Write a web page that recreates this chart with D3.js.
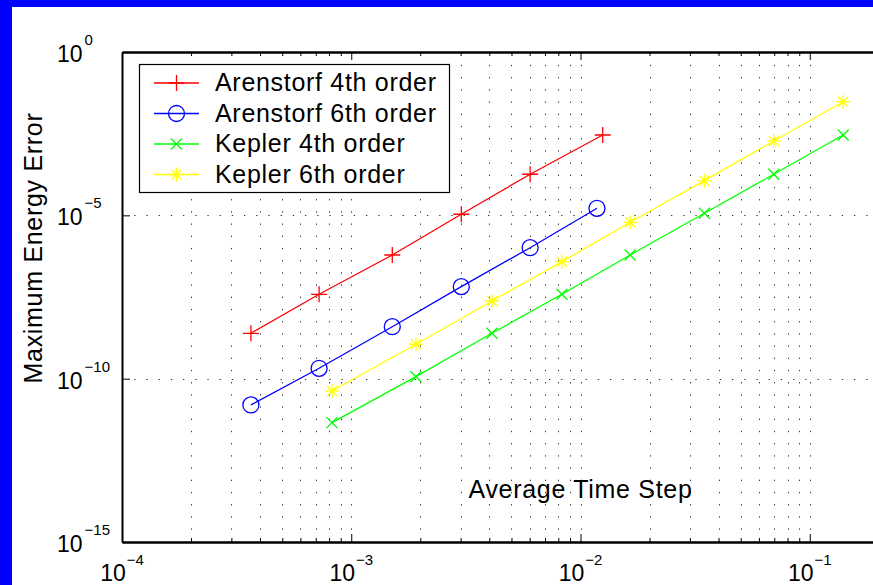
<!DOCTYPE html>
<html>
<head>
<meta charset="utf-8">
<script src="https://cdn.jsdelivr.net/npm/d3@7"></script>
<style>
  body { margin: 0; background: #fff; }
  svg { display: block; }
  text { font-family: "Liberation Sans", Arial, Helvetica, sans-serif; fill: #000; }
  .wide { letter-spacing: 0.7px; }
</style>
</head>
<body>
<div class="chart"></div>
<script>
// energy error vs. average time step

const seriesNames = ["Arenstorf 4th order", "Arenstorf 6th order", "Kepler 4th order", "Kepler 6th order"];

const arenstorf4X = [3.65e-4, 7.24e-4, 1.51e-3, 3.02e-3, 6.03e-3, 1.25e-2];
const arenstorf4Y = [2.45e-9, 3.83e-8, 6.11e-7, 1.08e-5, 1.81e-4, 2.88e-3];

const arenstorf6X = [3.65e-4, 7.24e-4, 1.51e-3, 3.02e-3, 6.03e-3, 1.18e-2];
const arenstorf6Y = [1.57e-11, 2.08e-10, 3.90e-9, 6.55e-8, 1.02e-6, 1.64e-5];

const keplerX = [8.24e-4, 1.915e-3, 4.11e-3, 8.30e-3, 1.647e-2, 3.47e-2, 6.97e-2, 0.1399];
const kepler4Y = [4.50e-12, 1.15e-10, 2.45e-9, 3.83e-8, 6.11e-7, 1.16e-5, 1.81e-4, 2.88e-3];
const kepler6Y = [4.20e-11, 1.13e-9, 2.39e-8, 3.81e-7, 6.12e-6, 1.15e-4, 1.89e-3, 3.01e-2];

const xMajorTicks = [1e-4, 1e-3, 1e-2, 1e-1];
const xTickExponents = ["\u22124", "\u22123", "\u22122", "\u22121"];
const yMajorTicks = [1, 1e-5, 1e-10, 1e-15];
const yTickExponents = ["0", "\u22125", "\u221210", "\u221215"];

const width = 873,
    height = 585;

const plotLeft = 122, plotRight = 1039, plotTop = 52, plotBottom = 542;

const x = d3.scaleLog().domain([1e-4, 1]).range([plotLeft, plotRight]);
const y = d3.scaleLog().domain([1, 1e-15]).range([plotTop, plotBottom]);

const series = [
  {name: seriesNames[0], xs: arenstorf4X, ys: arenstorf4Y, color: "#ff0000", marker: "plus"},
  {name: seriesNames[1], xs: arenstorf6X, ys: arenstorf6Y, color: "#0000ff", marker: "circle"},
  {name: seriesNames[2], xs: keplerX, ys: kepler4Y, color: "#00ff00", marker: "cross"},
  {name: seriesNames[3], xs: keplerX, ys: kepler6Y, color: "#ffff00", marker: "star"}
];

const svg = d3.select(".chart").append("svg")
    .attr("width", width)
    .attr("height", height);

// blue figure frame (top and left strips)
svg.append("rect").attr("x", 0).attr("y", 0).attr("width", width).attr("height", 7).attr("fill", "#0000ff");
svg.append("rect").attr("x", 0).attr("y", 0).attr("width", 12).attr("height", height).attr("fill", "#0000ff");

// minor x values 2..9 per decade
const xMinor = [];
for (let k = -4; k < 0; k++) {
  for (let m = 2; m <= 9; m++) xMinor.push(m * Math.pow(10, k));
}
const xGrid = xMinor.concat(xMajorTicks.slice(1));

const grid = svg.append("g")
    .attr("stroke", "#333")
    .attr("stroke-width", 1)
    .attr("stroke-dasharray", "1.3,10.9");

grid.selectAll(".vgrid")
  .data(xGrid)
  .enter().append("line")
    .attr("x1", d => Math.round(x(d)) + 0.5)
    .attr("x2", d => Math.round(x(d)) + 0.5)
    .attr("y1", plotBottom)
    .attr("y2", plotTop);

grid.selectAll(".hgrid")
  .data([1e-5, 1e-10])
  .enter().append("line")
    .attr("y1", d => Math.round(y(d)) + 0.5)
    .attr("y2", d => Math.round(y(d)) + 0.5)
    .attr("x1", plotLeft)
    .attr("x2", plotRight);

// axes (ticks point inward)
const styleAxis = g => {
  g.selectAll("path.domain").attr("stroke-width", 2);
  g.selectAll(".tick line").attr("stroke-width", 1);
};

svg.append("g").attr("transform", `translate(0,${plotBottom})`)
  .call(d3.axisBottom(x).tickValues(xMinor).tickSizeInner(-4).tickSizeOuter(0).tickFormat(""))
  .call(styleAxis);
svg.append("g").attr("transform", `translate(0,${plotBottom})`)
  .call(d3.axisBottom(x).tickValues(xMajorTicks).tickSizeInner(-8).tickSizeOuter(0).tickFormat(""))
  .call(styleAxis);
svg.append("g").attr("transform", `translate(0,${plotTop})`)
  .call(d3.axisTop(x).tickValues(xMinor).tickSizeInner(-4).tickSizeOuter(0).tickFormat(""))
  .call(styleAxis);
svg.append("g").attr("transform", `translate(0,${plotTop})`)
  .call(d3.axisTop(x).tickValues(xMajorTicks).tickSizeInner(-8).tickSizeOuter(0).tickFormat(""))
  .call(styleAxis);
svg.append("g").attr("transform", `translate(${plotLeft},0)`)
  .call(d3.axisLeft(y).tickValues(yMajorTicks).tickSizeInner(-8).tickSizeOuter(0).tickFormat(""))
  .call(styleAxis);

// tick labels as 10^n
const xl = svg.selectAll(".xlab")
  .data(xMajorTicks)
  .enter().append("text")
    .attr("x", d => x(d))
    .attr("y", plotBottom + 39)
    .attr("text-anchor", "middle")
    .attr("font-size", 23)
    .text("10");
xl.append("tspan")
    .attr("dy", -16)
    .attr("dx", 1)
    .attr("font-size", 15)
    .text((d, i) => xTickExponents[i]);

const yl = svg.selectAll(".ylab")
  .data(yMajorTicks)
  .enter().append("text")
    .attr("x", 57)
    .attr("y", d => y(d) + 10)
    .attr("font-size", 23)
    .text("10");
yl.append("tspan")
    .attr("dy", -17)
    .attr("dx", 2)
    .attr("font-size", 15)
    .text((d, i) => yTickExponents[i]);

// axis labels
svg.append("text")
    .attr("class", "wide")
    .attr("transform", "translate(42,248) rotate(-90)")
    .attr("text-anchor", "middle")
    .attr("font-size", 25)
    .text("Maximum Energy Error");

svg.append("text")
    .attr("class", "wide")
    .attr("x", (plotLeft + plotRight) / 2)
    .attr("y", 498)
    .attr("text-anchor", "middle")
    .attr("font-size", 25)
    .text("Average Time Step");

// marker shapes
const markerPath = (type) => {
  switch (type) {
    case "plus": return "M-8,0H8M0,-8V8";
    case "cross": return "M-5.5,-5.5L5.5,5.5M-5.5,5.5L5.5,-5.5";
    case "star": return "M-7,0H7M0,-7V7M-5,-5L5,5M-5,5L5,-5";
    case "circle": return "M8,0A8,8 0 1,1 -8,0A8,8 0 1,1 8,0Z";
  }
};

const line = d3.line()
    .x(d => x(d[0]))
    .y(d => y(d[1]));

series.forEach(s => {
  const pts = s.xs.map((v, i) => [v, s.ys[i]]);
  const g = svg.append("g");
  g.append("path")
      .datum(pts)
      .attr("fill", "none")
      .attr("stroke", s.color)
      .attr("stroke-width", 1.3)
      .attr("d", line);
  g.selectAll("path.mk")
    .data(pts)
    .enter().append("path")
      .attr("class", "mk")
      .attr("transform", d => `translate(${x(d[0])},${y(d[1])})`)
      .attr("d", markerPath(s.marker))
      .attr("fill", "none")
      .attr("stroke", s.color)
      .attr("stroke-width", 1.3);
});

// legend
const legend = svg.append("g");
legend.append("rect")
    .attr("x", 139.5)
    .attr("y", 64.5)
    .attr("width", 310)
    .attr("height", 128)
    .attr("fill", "#fff")
    .attr("stroke", "#000")
    .attr("stroke-width", 1.2);

const item = legend.selectAll(".item")
  .data(series)
  .enter().append("g")
    .attr("transform", (d, i) => `translate(0,${83 + i * 30.5})`);
item.append("line")
    .attr("x1", 154).attr("x2", 199)
    .attr("stroke", d => d.color)
    .attr("stroke-width", 1.3);
item.append("path")
    .attr("transform", "translate(176.5,0)")
    .attr("d", d => markerPath(d.marker))
    .attr("fill", "none")
    .attr("stroke", d => d.color)
    .attr("stroke-width", 1.3);
item.append("text")
    .attr("class", "wide")
    .attr("x", 215)
    .attr("y", 8)
    .attr("font-size", 25)
    .text(d => d.name);
</script>
</body>
</html>
